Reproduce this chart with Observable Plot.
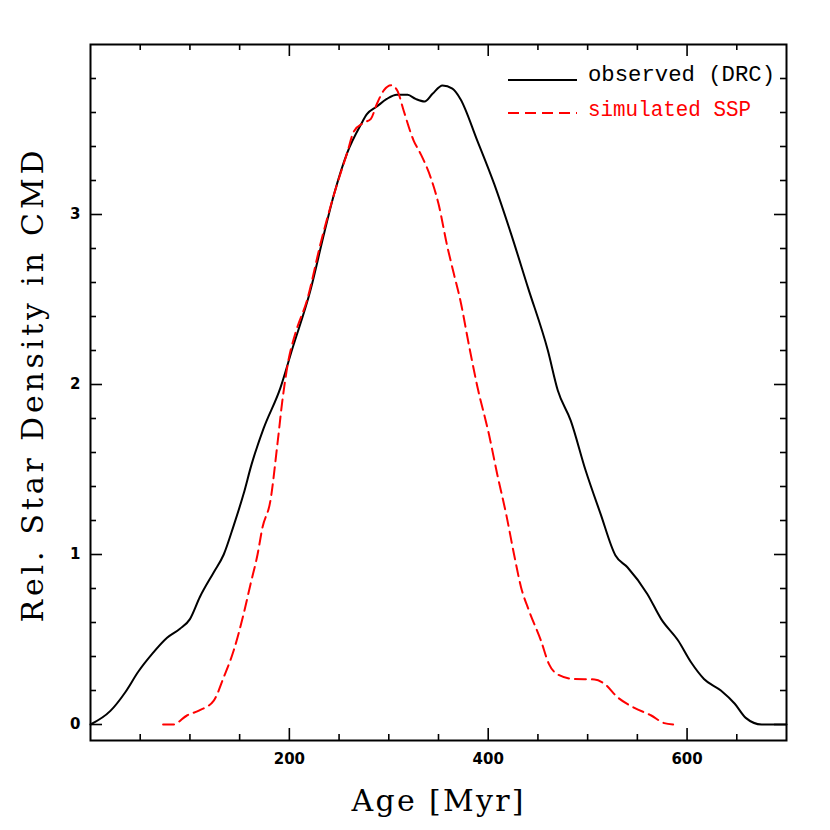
<!DOCTYPE html>
<html><head><meta charset="utf-8">
<script src="https://cdn.jsdelivr.net/npm/d3@7"></script>
<script src="https://cdn.jsdelivr.net/npm/@observablehq/plot@0.6"></script>
<style>body{margin:0;background:#fff}</style>
</head><body><div id="chart"></div>
<script>
// observed (DRC)
const obsAge = [0, 20, 35, 48, 62, 77, 90, 100, 110, 124, 134, 144, 154, 162, 174, 191, 203, 221, 235, 245, 258, 272, 278, 288, 298, 308, 319, 327, 336, 344, 354, 364, 372, 389, 406, 423, 440, 460, 470, 483, 498, 513, 528, 540, 560, 574, 591, 604, 617, 634, 648, 659, 675, 700];
const obsDensity = [0, 0.08, 0.19, 0.31, 0.415, 0.51, 0.563, 0.62, 0.75, 0.896, 1.0, 1.17, 1.357, 1.53, 1.74, 1.98, 2.21, 2.55, 2.89, 3.12, 3.36, 3.53, 3.59, 3.635, 3.68, 3.705, 3.704, 3.68, 3.665, 3.71, 3.759, 3.74, 3.68, 3.435, 3.18, 2.886, 2.57, 2.2, 1.965, 1.788, 1.494, 1.239, 0.994, 0.925, 0.768, 0.62, 0.494, 0.366, 0.268, 0.2, 0.122, 0.039, 0, 0];
// simulated SSP
const simAge = [73, 83, 97, 109, 124, 134, 144, 154, 161, 168, 173, 181, 188, 193, 199, 206, 218, 231, 245, 258, 265, 275, 282, 288, 295, 302.5, 308.5, 315, 325, 332, 342, 350, 359, 365.5, 372, 381, 389, 401, 409, 418, 426, 433, 441, 453, 461, 470, 486, 507, 517, 530, 547, 564, 577, 586];
const simDensity = [0, 0, 0.053, 0.082, 0.141, 0.278, 0.435, 0.65, 0.827, 1.0, 1.16, 1.318, 1.65, 1.906, 2.14, 2.3, 2.5, 2.82, 3.12, 3.36, 3.49, 3.54, 3.563, 3.65, 3.73, 3.76, 3.73, 3.61, 3.435, 3.357, 3.22, 3.063, 2.808, 2.65, 2.494, 2.22, 1.99, 1.70, 1.474, 1.239, 1.0, 0.808, 0.67, 0.494, 0.357, 0.294, 0.268, 0.265, 0.239, 0.161, 0.098, 0.053, 0.008, 0];

const xTickLabels = [200, 400, 600];
const xMinorTicks = [50, 100, 150, 250, 300, 350, 450, 500, 550, 650];
const yTickLabels = [0, 1, 2, 3];
const yMinorTicks = [0.2, 0.4, 0.6, 0.8, 1.2, 1.4, 1.6, 1.8, 2.2, 2.4, 2.6, 2.8, 3.2, 3.4, 3.6, 3.8];
const seriesNames = ["observed (DRC)", "simulated SSP"];
const xTitle = "Age [Myr]";
const yTitle = "Rel. Star Density in CMD";

const obs = obsAge.map((a, i) => ({age: a, density: obsDensity[i]}));
const sim = simAge.map((a, i) => ({age: a, density: simDensity[i]}));

const W = 830, H = 830, mL = 90, mR = 44, mT = 44, mB = 90;
const pw = W - mL - mR, ph = H - mT - mB;
const major = 12, minor = 6, tw = 1.6;

function legend(index, scales, values, dims) {
  const g = d3.create("svg:g");
  const xr = dims.width - dims.marginRight;
  const y0 = dims.marginTop;
  const items = [
    {name: seriesNames[0], color: "black", dash: null, ly: 36, ty: 37, len: 187},
    {name: seriesNames[1], color: "#ff0000", dash: "11,6", ly: 69, ty: 72, len: 163}
  ];
  for (const it of items) {
    g.append("line")
      .attr("x1", xr - 278).attr("x2", xr - 209)
      .attr("y1", y0 + it.ly).attr("y2", y0 + it.ly)
      .attr("stroke", it.color).attr("stroke-width", 1.8)
      .attr("stroke-dasharray", it.dash);
    g.append("text")
      .attr("x", xr - 198).attr("y", y0 + it.ty)
      .attr("text-anchor", "start")
      .attr("fill", it.color)
      .attr("font-family", "'Liberation Mono', 'DejaVu Sans Mono', monospace")
      .attr("font-size", 22)
      .attr("textLength", it.len).attr("lengthAdjust", "spacingAndGlyphs")
      .text(it.name);
  }
  return g.node();
}

const chart = Plot.plot({
  width: W, height: H,
  marginLeft: mL, marginRight: mR, marginTop: mT, marginBottom: mB,
  x: {domain: [0, 700], axis: null},
  y: {domain: [-0.0941, 4.0], axis: null},
  style: {background: "white"},
  marks: [
    // ticks (inward, all sides)
    Plot.ruleX(xMinorTicks, {x: d => d, insetTop: ph - minor, stroke: "black", strokeWidth: tw}),
    Plot.ruleX(xMinorTicks, {x: d => d, insetBottom: ph - minor, stroke: "black", strokeWidth: tw}),
    Plot.ruleX(xTickLabels, {x: d => d, insetTop: ph - major, stroke: "black", strokeWidth: tw}),
    Plot.ruleX(xTickLabels, {x: d => d, insetBottom: ph - major, stroke: "black", strokeWidth: tw}),
    Plot.ruleY(yMinorTicks, {y: d => d, insetRight: pw - minor, stroke: "black", strokeWidth: tw}),
    Plot.ruleY(yMinorTicks, {y: d => d, insetLeft: pw - minor, stroke: "black", strokeWidth: tw}),
    Plot.ruleY(yTickLabels, {y: d => d, insetRight: pw - major, stroke: "black", strokeWidth: tw}),
    Plot.ruleY(yTickLabels, {y: d => d, insetLeft: pw - major, stroke: "black", strokeWidth: tw}),
    // tick labels
    Plot.axisX(xTickLabels, {tickSize: 0, tickPadding: 13, fontSize: 15, fontWeight: "bold", label: null, fontFamily: "DejaVu Sans", tickFormat: d => String(d)}),
    Plot.axisY(yTickLabels, {tickSize: 0, tickPadding: 10, fontSize: 15, fontWeight: "bold", label: null, fontFamily: "DejaVu Sans", tickFormat: d => String(d)}),
    // curves
    Plot.line(obs, {x: "age", y: "density", stroke: "black", strokeWidth: 2, curve: "monotone-x"}),
    Plot.line(sim, {x: "age", y: "density", stroke: "#ff0000", strokeWidth: 2, strokeDasharray: "11,6", curve: "monotone-x"}),
    // frame
    Plot.frame({stroke: "black", strokeWidth: 2}),
    // titles
    Plot.text([xTitle], {text: d => d, frameAnchor: "bottom", textAnchor: "middle", lineAnchor: "bottom", dy: 70, dx: -1, fontSize: 30, fontFamily: "DejaVu Serif", fill: "black"}),
    Plot.text([yTitle], {text: d => d, frameAnchor: "left", textAnchor: "middle", lineAnchor: "bottom", rotate: -90, dx: -48, dy: -6, fontSize: 30, fontFamily: "DejaVu Serif", fill: "black"}),
    legend
  ]
});

// stretch the axis titles to the reference's wide letter spacing
d3.select(chart).selectAll("text").each(function() {
  const t = this.textContent;
  if (t === xTitle) { this.setAttribute("textLength", 172); this.setAttribute("lengthAdjust", "spacing"); }
  if (t === yTitle) { this.setAttribute("textLength", 472); this.setAttribute("lengthAdjust", "spacing"); }
});
document.getElementById("chart").appendChild(chart);
</script>
</body></html>
